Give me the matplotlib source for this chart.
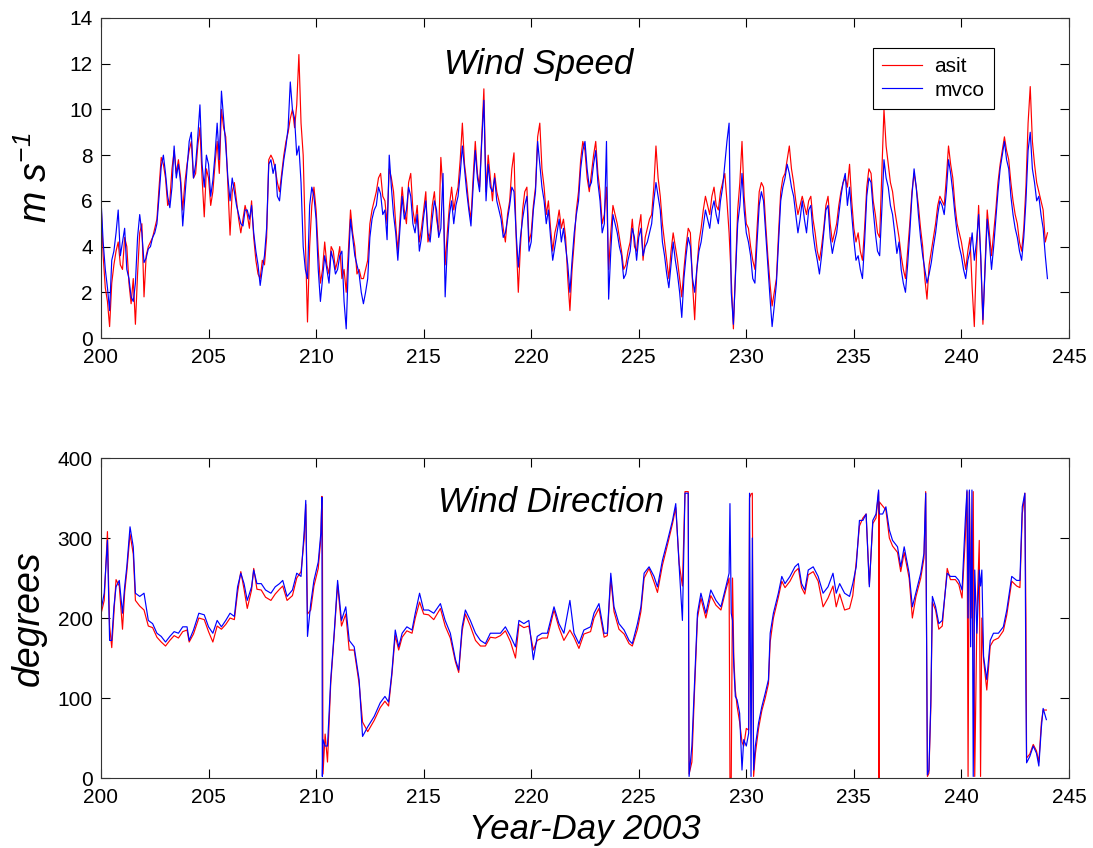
import numpy as np
import matplotlib
matplotlib.use("Agg")
import matplotlib.pyplot as plt

plt.rcParams["font.family"] = ["Liberation Sans", "DejaVu Sans"]
plt.rcParams["mathtext.fontset"] = "custom"
plt.rcParams["mathtext.rm"] = "Liberation Sans:italic"
plt.rcParams["mathtext.it"] = "Liberation Sans:italic"

# wind speed (m/s), sampled every 0.1 day from day 200.0 (one row = 2 days)
spd_mvco = [
    6.1, 4.2, 3.0, 2.2, 1.2, 3.4, 3.8, 4.6, 5.6, 3.6, 4.2, 4.8, 3.0, 2.6, 1.8, 1.6, 2.4, 4.4, 5.4, 4.6,
    3.3, 3.5, 3.9, 4.0, 4.4, 4.6, 5.0, 6.2, 7.5, 8.0, 7.2, 6.2, 5.7, 6.6, 8.4, 7.0, 7.6, 6.8, 4.9, 6.2,
    7.4, 8.6, 9.0, 7.0, 7.6, 8.8, 10.2, 7.6, 6.6, 8.0, 7.6, 6.2, 6.9, 8.0, 9.4, 7.8, 10.8, 9.6, 8.4, 7.0,
    6.0, 7.0, 6.4, 5.8, 5.4, 5.0, 4.9, 5.6, 5.6, 5.2, 5.8, 4.6, 3.8, 3.2, 2.3, 3.0, 3.6, 4.8, 7.6, 7.8,
    7.2, 7.6, 6.2, 6.0, 7.0, 7.8, 8.4, 9.2, 11.2, 10.0, 9.6, 8.0, 8.4, 6.8, 4.0, 3.0, 2.6, 5.8, 6.6, 6.2,
    5.2, 3.0, 1.6, 2.6, 3.6, 3.0, 2.4, 3.8, 3.4, 2.8, 3.0, 3.6, 3.8, 1.6, 0.4, 3.2, 5.2, 4.4, 3.6, 3.2,
    2.8, 2.0, 1.5, 2.0, 2.6, 4.4, 5.2, 5.6, 5.8, 6.6, 6.3, 5.4, 5.6, 4.3, 8.0, 6.6, 5.4, 4.6, 3.4, 4.8,
    6.2, 5.2, 5.6, 6.6, 6.2, 5.0, 4.6, 5.4, 3.8, 4.4, 5.3, 6.0, 4.6, 4.2, 5.2, 6.0, 5.6, 4.4, 4.8, 7.2,
    1.8, 4.0, 5.4, 6.0, 5.0, 5.8, 6.2, 7.2, 8.4, 7.4, 6.4, 5.6, 4.9, 6.6, 8.2, 7.0, 6.4, 8.6, 10.4, 6.0,
    7.6, 6.6, 6.4, 7.0, 6.0, 5.6, 5.2, 4.4, 4.6, 5.2, 5.8, 6.6, 6.4, 4.6, 3.1, 4.4, 5.2, 5.8, 6.2, 3.8,
    4.2, 5.6, 6.4, 8.6, 7.6, 6.6, 6.0, 5.0, 5.6, 4.4, 3.4, 4.0, 4.6, 5.2, 4.2, 4.8, 4.0, 3.2, 2.0, 3.4,
    4.6, 5.4, 6.0, 7.4, 8.2, 8.6, 7.4, 6.6, 6.8, 7.6, 8.2, 6.8, 6.0, 4.6, 5.0, 8.6, 1.7, 3.8, 5.4, 5.0,
    4.6, 4.0, 3.6, 2.6, 2.8, 3.4, 3.8, 4.8, 4.4, 3.4, 4.4, 4.8, 3.6, 4.0, 4.2, 4.6, 5.0, 6.0, 6.8, 6.2,
    5.6, 4.2, 3.6, 2.8, 2.2, 3.2, 4.2, 3.4, 2.8, 2.0, 0.9, 2.6, 3.6, 4.4, 4.0, 2.6, 2.0, 3.0, 3.8, 4.2,
    4.9, 5.6, 5.2, 4.8, 5.6, 6.0, 5.4, 5.0, 6.0, 6.6, 7.6, 8.6, 9.4, 2.0, 0.6, 2.8, 5.0, 5.8, 7.2, 5.6,
    4.6, 4.2, 3.6, 2.6, 2.4, 4.2, 5.8, 6.4, 6.0, 4.6, 3.2, 1.8, 0.5, 1.4, 2.4, 4.2, 6.0, 6.6, 7.0, 7.6,
    7.2, 6.6, 6.2, 5.4, 4.6, 5.2, 6.0, 5.2, 4.6, 5.6, 5.8, 4.6, 3.9, 3.4, 2.8, 3.6, 4.6, 5.6, 5.8, 4.4,
    3.7, 4.2, 4.6, 5.4, 6.2, 6.8, 7.2, 5.8, 6.6, 5.4, 4.3, 3.4, 3.6, 3.0, 2.6, 4.2, 6.2, 7.0, 6.8, 5.6,
    4.6, 3.8, 3.6, 5.6, 7.8, 7.0, 6.6, 5.8, 5.4, 4.6, 3.7, 4.2, 3.0, 2.4, 2.0, 3.2, 4.6, 6.2, 7.4, 6.6,
    5.4, 4.4, 3.6, 3.0, 2.4, 2.8, 3.3, 4.0, 4.6, 5.4, 6.0, 5.8, 5.4, 6.4, 7.8, 7.2, 6.4, 5.4, 4.6, 4.0,
    3.6, 3.0, 2.6, 3.4, 3.8, 4.6, 3.4, 4.2, 5.4, 3.6, 0.8, 3.0, 5.2, 4.2, 3.0, 4.0, 5.2, 6.4, 7.4, 8.0,
    8.6, 7.8, 7.4, 6.2, 5.4, 4.8, 4.4, 3.8, 3.4, 4.4, 6.0, 8.2, 9.0, 7.4, 6.8, 6.0, 6.2, 5.4, 4.8, 3.6,
    2.6,
]
spd_asit = [
    6.0, 3.6, 2.2, 1.6, 0.5, 2.4, 3.2, 3.8, 4.2, 3.2, 3.0, 4.4, 4.0, 2.4, 1.5, 2.6, 0.6, 2.8, 4.6, 5.0,
    1.8, 3.6, 4.0, 4.2, 4.4, 4.8, 5.2, 6.6, 7.9, 7.6, 7.0, 5.8, 6.0, 7.4, 8.2, 7.2, 7.8, 7.0, 5.6, 6.8,
    7.6, 8.2, 8.6, 7.0, 7.2, 8.4, 9.2, 7.0, 5.3, 7.4, 7.0, 5.8, 6.4, 7.6, 8.6, 7.2, 10.0, 9.2, 8.8, 6.6,
    4.5, 6.4, 6.8, 6.0, 5.2, 4.6, 5.2, 5.8, 5.4, 4.8, 6.0, 4.4, 3.4, 2.8, 2.6, 3.4, 3.2, 4.4, 7.8, 8.0,
    7.8, 7.4, 6.8, 6.4, 7.2, 8.0, 8.6, 9.0, 9.6, 10.0, 9.2, 10.2, 12.4, 9.4, 8.0, 4.4, 0.7, 4.0, 5.8, 6.6,
    5.6, 3.8, 2.4, 3.0, 4.2, 3.2, 2.8, 4.0, 3.8, 3.0, 3.4, 4.0, 2.6, 3.0, 2.0, 3.8, 5.6, 4.6, 4.0, 2.8,
    3.0, 2.6, 2.6, 3.0, 3.4, 5.0, 5.6, 6.0, 6.4, 7.0, 7.2, 6.2, 6.0, 5.0, 7.4, 7.0, 6.4, 5.0, 3.8, 5.2,
    6.6, 5.6, 5.0, 6.8, 7.2, 5.6, 5.0, 5.8, 4.2, 4.8, 5.6, 6.4, 4.2, 4.6, 5.8, 6.4, 5.2, 4.6, 7.9, 6.4,
    3.2, 4.6, 5.8, 6.6, 5.6, 6.2, 6.6, 7.8, 9.4, 7.6, 6.8, 5.8, 5.2, 7.0, 8.6, 7.2, 6.6, 8.8, 10.9, 6.4,
    8.0, 7.0, 6.0, 7.2, 6.4, 6.0, 5.6, 4.8, 4.2, 5.4, 6.0, 7.4, 8.1, 4.4, 2.0, 4.0, 5.6, 6.4, 6.6, 4.2,
    4.6, 5.8, 6.6, 8.8, 9.4, 7.4, 6.6, 5.4, 6.0, 4.8, 3.8, 4.6, 5.0, 5.6, 4.8, 5.2, 4.4, 2.6, 1.2, 3.0,
    4.2, 5.6, 6.4, 7.8, 8.6, 8.2, 7.0, 6.4, 7.2, 8.0, 8.6, 7.2, 6.4, 5.0, 5.4, 6.6, 3.0, 4.6, 5.8, 5.4,
    5.0, 4.4, 3.8, 3.0, 3.2, 3.8, 4.2, 5.2, 4.0, 3.8, 4.8, 5.4, 3.4, 4.4, 4.8, 5.2, 5.4, 6.6, 8.4, 7.0,
    6.2, 5.0, 4.2, 3.4, 2.6, 3.8, 4.6, 4.0, 3.4, 2.6, 1.8, 3.0, 4.0, 4.8, 4.6, 2.4, 0.8, 3.0, 4.2, 4.8,
    5.6, 6.2, 5.8, 5.4, 6.2, 6.6, 5.8, 5.6, 6.4, 6.8, 7.2, 6.0, 4.6, 2.6, 0.4, 3.0, 5.6, 6.8, 8.6, 6.2,
    5.0, 4.8, 4.0, 3.4, 3.0, 4.8, 6.4, 6.8, 6.6, 5.0, 3.6, 2.4, 1.4, 2.0, 2.6, 4.6, 6.4, 7.0, 7.2, 7.8,
    8.4, 7.4, 6.8, 6.0, 5.4, 5.8, 6.2, 5.8, 5.4, 6.0, 6.2, 5.2, 4.6, 3.8, 3.4, 4.0, 4.8, 5.8, 6.2, 5.0,
    4.2, 4.6, 5.0, 5.8, 6.4, 6.8, 7.0, 6.6, 7.6, 6.0, 4.8, 4.2, 4.6, 3.8, 3.4, 4.8, 6.6, 7.4, 7.2, 6.0,
    5.4, 4.6, 4.4, 7.2, 10.0, 8.4, 7.6, 6.8, 6.4, 5.6, 5.0, 4.4, 3.6, 3.0, 2.6, 3.8, 5.0, 6.4, 7.2, 6.6,
    5.8, 4.8, 4.0, 2.6, 1.7, 3.2, 3.8, 4.4, 5.0, 5.8, 6.2, 6.0, 5.8, 7.0, 8.4, 7.6, 7.0, 5.8, 5.0, 4.6,
    4.2, 3.6, 3.0, 3.8, 4.4, 2.2, 0.5, 3.6, 5.8, 3.4, 0.6, 3.2, 5.6, 4.6, 3.6, 4.6, 5.6, 6.8, 7.6, 8.2,
    8.8, 8.2, 7.8, 6.8, 6.0, 5.4, 5.0, 4.2, 3.8, 4.8, 6.6, 9.4, 11.0, 8.6, 7.6, 6.8, 6.4, 6.0, 5.6, 4.2,
    4.6,
]
mvco_day = 200 + 0.1 * np.arange(len(spd_mvco))
asit_day = 200 + 0.1 * np.arange(len(spd_asit))

# wind direction (degrees)
dir_day = [
    200.0, 200.15, 200.3, 200.4, 200.5, 200.6, 200.7, 200.85, 201.0, 201.1,
    201.2, 201.35, 201.5, 201.6, 201.8, 202.0, 202.2, 202.4, 202.6, 202.8,
    203.0, 203.2, 203.4, 203.6, 203.8, 204.0, 204.1, 204.3, 204.55, 204.8,
    205.0, 205.2, 205.4, 205.6, 205.8, 206.0, 206.2, 206.35, 206.5, 206.65,
    206.8, 207.0, 207.1, 207.25, 207.45, 207.65, 207.9, 208.1, 208.3, 208.45,
    208.65, 208.9, 209.1, 209.3, 209.45, 209.52, 209.6, 209.75, 209.9, 210.1,
    210.22, 210.27, 210.29, 210.32, 210.42, 210.53, 210.68, 210.84, 211.0, 211.18,
    211.38, 211.54, 211.77, 212.0, 212.16, 212.4, 212.7, 212.98, 213.2, 213.37,
    213.52, 213.68, 213.84, 214.0, 214.22, 214.46, 214.61, 214.81, 215.0, 215.23,
    215.47, 215.78, 216.0, 216.24, 216.48, 216.63, 216.79, 216.94, 217.17, 217.41,
    217.64, 217.87, 218.1, 218.34, 218.57, 218.8, 219.04, 219.27, 219.43, 219.66,
    219.89, 220.1, 220.28, 220.51, 220.75, 221.06, 221.29, 221.52, 221.8, 221.99,
    222.22, 222.45, 222.76, 222.92, 223.15, 223.39, 223.54, 223.7, 223.85, 224.08,
    224.32, 224.55, 224.7, 224.94, 225.1, 225.25, 225.48, 225.71, 225.87, 226.1,
    226.34, 226.57, 226.72, 226.88, 227.03, 227.15, 227.3, 227.34, 227.47, 227.58,
    227.73, 227.89, 228.12, 228.35, 228.59, 228.82, 229.05, 229.2, 229.24, 229.3,
    229.36, 229.42, 229.49, 229.57, 229.69, 229.8, 229.88, 230.0, 230.11, 230.15,
    230.22, 230.28, 230.34, 230.42, 230.57, 230.72, 230.88, 231.03, 231.11, 231.26,
    231.49, 231.65, 231.8, 232.03, 232.26, 232.42, 232.57, 232.72, 232.88, 233.11,
    233.34, 233.57, 233.8, 234.03, 234.18, 234.34, 234.57, 234.8, 234.95, 235.11,
    235.26, 235.42, 235.57, 235.72, 235.88, 236.03, 236.15, 236.17, 236.19, 236.34,
    236.49, 236.65, 236.8, 237.03, 237.18, 237.34, 237.57, 237.72, 237.88, 238.11,
    238.26, 238.34, 238.42, 238.49, 238.58, 238.65, 238.8, 238.95, 239.11, 239.34,
    239.49, 239.72, 239.88, 240.03, 240.18, 240.26, 240.31, 240.37, 240.43, 240.49,
    240.55, 240.62, 240.72, 240.83, 240.89, 240.95, 241.03, 241.18, 241.34, 241.49,
    241.72, 241.95, 242.11, 242.34, 242.57, 242.72, 242.83, 242.95, 243.0, 243.03,
    243.18, 243.34, 243.49, 243.6, 243.72, 243.8, 243.95,
]
dir_mvco = [
    210, 231, 297, 172, 172, 214, 239, 247, 206, 239,
    264, 314, 289, 231, 227, 231, 197, 193, 181, 177,
    170, 177, 183, 181, 189, 189, 172, 185, 206, 204,
    189, 181, 197, 189, 197, 206, 202, 239, 256, 243,
    222, 239, 260, 243, 243, 235, 231, 239, 243, 247,
    227, 235, 256, 252, 310, 347, 177, 218, 247, 270,
    306, 351, 2, 48, 40, 40, 123, 181, 247, 197,
    214, 172, 164, 123, 52, 64, 77, 94, 102, 95,
    131, 185, 164, 181, 189, 185, 206, 231, 210, 210,
    206, 218, 197, 181, 148, 135, 189, 210, 197, 181,
    172, 168, 181, 181, 181, 189, 177, 164, 197, 193,
    197, 148, 177, 181, 181, 214, 193, 181, 222, 181,
    168, 185, 189, 206, 218, 181, 181, 256, 214, 193,
    185, 172, 168, 193, 214, 256, 264, 252, 239, 272,
    297, 322, 343, 264, 197, 356, 356, 2, 40, 110,
    206, 231, 206, 235, 222, 214, 239, 256, 343, 206,
    197, 139, 102, 98, 81, 10, 48, 40, 56, 356,
    2, 300, 10, 40, 69, 89, 106, 123, 181, 206,
    231, 252, 243, 252, 264, 268, 243, 235, 260, 264,
    252, 231, 239, 256, 231, 243, 231, 227, 243, 264,
    322, 322, 330, 239, 322, 330, 360, 335, 330, 330,
    339, 310, 297, 289, 264, 289, 256, 214, 231, 256,
    281, 356, 4, 10, 98, 227, 214, 193, 197, 256,
    252, 252, 247, 235, 322, 360, 200, 360, 164, 360,
    2, 260, 181, 260, 240, 260, 152, 123, 172, 181,
    181, 189, 210, 252, 247, 247, 339, 356, 106, 19,
    27, 40, 31, 15, 64, 87, 73,
]
dir_asit = [
    205, 222, 308, 190, 163, 205, 248, 240, 186, 232,
    258, 305, 280, 222, 215, 210, 190, 188, 176, 170,
    165, 172, 178, 175, 183, 185, 170, 180, 200, 198,
    183, 170, 190, 186, 192, 200, 198, 232, 258, 236,
    212, 235, 262, 236, 235, 226, 222, 230, 236, 240,
    222, 228, 250, 258, 300, 342, 205, 210, 240, 262,
    300, 352, 350, 5, 55, 20, 118, 178, 242, 190,
    205, 160, 160, 118, 70, 58, 72, 88, 96, 90,
    128, 178, 160, 176, 184, 181, 200, 220, 205, 204,
    198, 212, 190, 175, 145, 132, 184, 205, 190, 172,
    165, 165, 176, 175, 178, 184, 170, 150, 192, 188,
    190, 160, 172, 175, 175, 210, 188, 172, 185, 176,
    162, 180, 183, 200, 212, 176, 178, 250, 208, 186,
    180, 168, 165, 186, 208, 250, 262, 245, 232, 266,
    292, 318, 338, 268, 240, 358, 358, 5, 20, 100,
    200, 225, 200, 228, 216, 210, 235, 250, 0, 0,
    250, 150, 110, 90, 70, 45, 40, 62, 60, 350,
    355, 356, 2, 30, 62, 84, 100, 118, 170, 200,
    226, 246, 238, 246, 258, 262, 238, 230, 254, 258,
    246, 214, 225, 240, 214, 230, 210, 212, 228, 270,
    315, 325, 330, 242, 318, 325, 358, 0, 345, 340,
    335, 300, 290, 282, 258, 282, 250, 200, 226, 250,
    275, 358, 2, 6, 90, 220, 210, 186, 190, 262,
    248, 248, 242, 225, 300, 358, 2, 358, 250, 200,
    358, 2, 200, 297, 2, 200, 148, 110, 165, 172,
    175, 184, 204, 246, 240, 238, 330, 356, 200, 25,
    30, 42, 34, 20, 70, 85, 85,
]

fig = plt.figure(figsize=(10.93, 8.48), dpi=100)
ax1 = fig.add_axes([0.0924, 0.6014, 0.8856, 0.3774])
ax2 = fig.add_axes([0.0924, 0.0825, 0.8856, 0.3774])

ax1.plot(asit_day, spd_asit, color="#ff0000", lw=0.85, label="asit")
ax1.plot(mvco_day, spd_mvco, color="#0000ff", lw=0.85, label="mvco")
ax2.plot(dir_day, dir_asit, color="#ff0000", lw=0.85)
ax2.plot(dir_day, dir_mvco, color="#0000ff", lw=0.85)

ax1.set_ylim(0, 14)
ax1.set_yticks(range(0, 15, 2))
ax2.set_ylim(0, 400)
ax2.set_yticks(range(0, 401, 100))

for ax in (ax1, ax2):
    ax.set_xlim(200, 245)
    ax.set_xticks(range(200, 246, 5))
    ax.tick_params(direction="in", top=True, right=True, length=6.5,
                   width=0.8, labelsize=15, pad=6, colors="black")
    ax.tick_params(axis="x", pad=7)
    for s in ax.spines.values():
        s.set_linewidth(0.8)
        s.set_color("#333333")

ax1.text(0.4525, 0.825, "Wind Speed", transform=ax1.transAxes, ha="center",
         va="baseline", fontsize=25, style="italic")
ax2.text(0.465, 0.831, "Wind Direction", transform=ax2.transAxes, ha="center",
         va="baseline", fontsize=25, style="italic")

ax1.set_ylabel("m s$^{-1}$", fontsize=27, style="italic")
ax1.yaxis.set_label_coords(-0.048, 0.5)
ax2.set_ylabel("degrees", fontsize=27, style="italic")
ax2.yaxis.set_label_coords(-0.056, 0.5)
ax2.set_xlabel("Year-Day 2003", fontsize=25, style="italic", va="baseline")
ax2.xaxis.set_label_coords(0.5, -0.19)

leg = ax1.legend(loc="upper left", bbox_to_anchor=(0.7975, 0.906), fontsize=15,
                 frameon=True, fancybox=False, framealpha=1, edgecolor="black",
                 handlelength=1.9, handletextpad=0.6, borderpad=0.45,
                 labelspacing=0.2, borderaxespad=0)
leg.get_frame().set_linewidth(0.8)

fig.savefig("out.png", dpi=100, facecolor="white")
